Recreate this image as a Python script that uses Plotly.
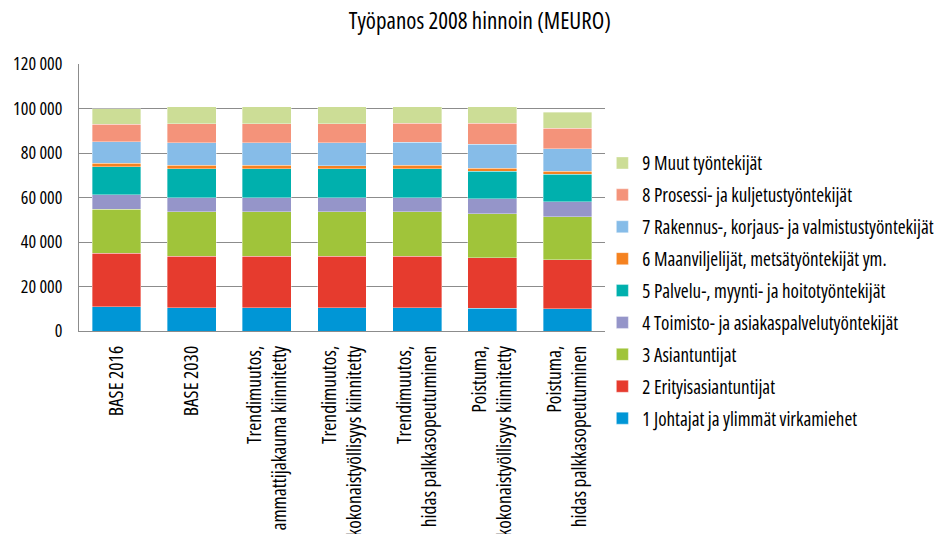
import plotly.graph_objects as go

categories = [
    "BASE 2016",
    "BASE 2030",
    "Trendimuutos,<br>ammattijakauma kiinnitetty",
    "Trendimuutos,<br>kokonaistyöllisyys kiinnitetty",
    "Trendimuutos,<br>hidas palkkasopeutuminen",
    "Poistuma,<br>kokonaistyöllisyys kiinnitetty",
    "Poistuma,<br>hidas palkkasopeutuminen",
]

series_names = [
    "1 Johtajat ja ylimmät virkamiehet",
    "2 Erityisasiantuntijat",
    "3 Asiantuntijat",
    "4 Toimisto- ja asiakaspalvelutyöntekijät",
    "5 Palvelu-, myynti- ja hoitotyöntekijät",
    "6 Maanviljelijät, metsätyöntekijät ym.",
    "7 Rakennus-, korjaus- ja valmistustyöntekijät",
    "8 Prosessi- ja kuljetustyöntekijät",
    "9 Muut työntekijät",
]

s1 = [10800, 10400, 10400, 10400, 10400, 10200, 9900]
s2 = [24200, 23200, 23200, 23100, 23100, 22800, 22200]
s3 = [19800, 20100, 20100, 20000, 20100, 19600, 19300]
s4 = [6500, 6200, 6200, 6400, 6300, 6900, 6600]
s5 = [12600, 13100, 13100, 13100, 13100, 12400, 12400]
s6 = [1500, 1500, 1500, 1300, 1400, 1300, 1400]
s7 = [9600, 10200, 10200, 10200, 10400, 10700, 10200]
s8 = [7900, 8500, 8500, 8700, 8500, 9500, 9100]
s9 = [7100, 7700, 7700, 7700, 7600, 7500, 7200]

series_values = [s1, s2, s3, s4, s5, s6, s7, s8, s9]

colors = ["#0096D6", "#E63B2E", "#A0C43A", "#9595C9", "#00B0AD",
          "#F58220", "#86BCE8", "#F4937A", "#CCDD96"]

y_tickvals = [0, 20000, 40000, 60000, 80000, 100000, 120000]
y_ticktext = ["0", "20 000", "40 000", "60 000", "80 000", "100 000", "120 000"]

FONT = "Open Sans, Roboto, sans-serif"

fig = go.Figure()
n = len(series_names)
for i, (name, vals, col) in enumerate(zip(series_names, series_values, colors)):
    fig.add_trace(go.Bar(
        x=categories, y=vals, name=name,
        marker=dict(color=col, line=dict(color="rgba(255,255,255,0.6)", width=0.6)),
        legendgroup=name, legendrank=n - i,
    ))

fig.update_layout(
    barmode="stack",
    bargap=0.35,
    width=939, height=534,
    margin=dict(l=79, r=334, t=64, b=203, autoexpand=False),
    plot_bgcolor="white", paper_bgcolor="white",
    font=dict(family=FONT, size=18, color="#000000"),
    title=dict(text="Työpanos 2008 hinnoin (MEURO)", x=0.511, xref="container", xanchor="center",
               y=0.96, yref="container", yanchor="middle",
               font=dict(family=FONT, size=23, color="#000000")),
    legend=dict(traceorder="grouped", tracegroupgap=4.2,
                x=0.995, xanchor="left", y=0.70, yanchor="top",
                font=dict(family=FONT, size=19, color="#000000"),
                itemwidth=30, bgcolor="rgba(0,0,0,0)", maxheight=520),
    showlegend=True,
)

fig.update_yaxes(
    range=[0, 120000], tickvals=y_tickvals, ticktext=y_ticktext,
    showgrid=True, gridcolor="#8c8c8c", gridwidth=1,
    showline=True, linecolor="#8c8c8c", linewidth=1,
    ticks="", ticklabelstandoff=12, zeroline=False,
    tickfont=dict(family=FONT, size=18, color="#000000"),
)
fig.update_xaxes(
    tickangle=-90, showline=True, linecolor="#8c8c8c", linewidth=1,
    ticks="", ticklabelstandoff=6,
    tickfont=dict(family=FONT, size=19.5, color="#000000"),
)

post = (
    "document.body.style.margin='0';document.body.style.padding='0';"
    "var st=document.createElement('style');"
    "st.textContent='.js-plotly-plot svg text{font-stretch:75% !important;}';"
    "document.head.appendChild(st);"
)
fig.write_html("out.html", post_script=post, config={"displayModeBar": False})
